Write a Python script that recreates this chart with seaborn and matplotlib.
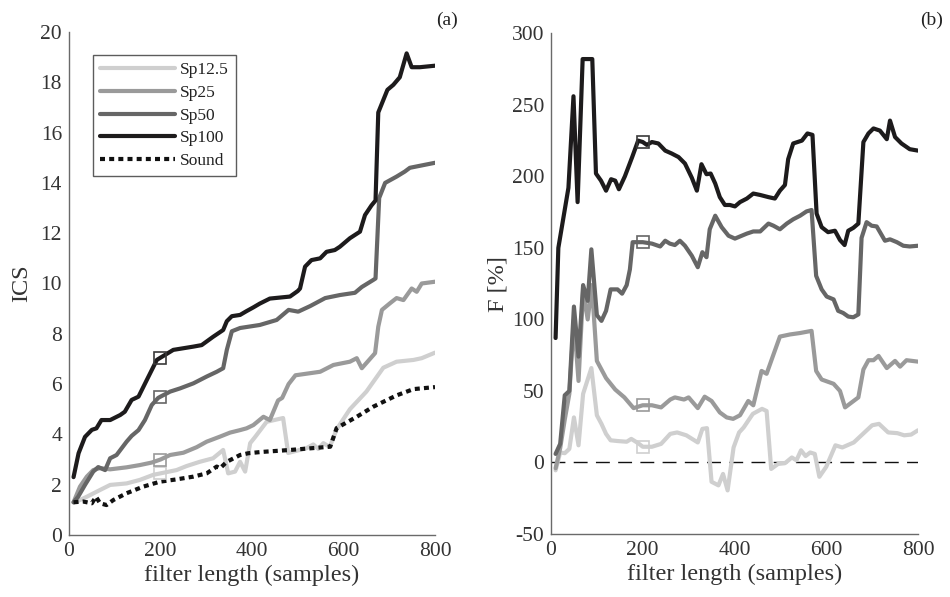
import numpy as np
import pandas as pd
import matplotlib
matplotlib.use("Agg")
import matplotlib.pyplot as plt
import seaborn as sns

# ---------------- data ----------------
SERIES = ["Sp12.5", "Sp25", "Sp50", "Sp100", "Sound"]
COLORS = {"Sp12.5": "#cfcfcf", "Sp25": "#9a9a9a", "Sp50": "#666666",
          "Sp100": "#1d1b1c", "Sound": "#111111"}

# panel (a): ICS vs filter length
a_sp100_x = [10, 21, 35, 50, 60, 71, 90, 112, 122, 137, 152, 170, 192, 200, 228, 272, 290, 315, 337, 345,
             356, 374, 388, 403, 417, 439, 483, 500, 505, 516, 530, 549, 563, 581, 592, 614, 636, 647, 661, 670,
             676, 696, 709, 723, 738, 749, 767, 800]
a_sp100_y = [2.3, 3.25, 3.9, 4.18, 4.24, 4.57, 4.57, 4.77, 4.9, 5.37, 5.5, 6.16, 6.96, 7.05, 7.36, 7.49, 7.55, 7.88, 8.15, 8.5,
             8.7, 8.75, 8.9, 9.05, 9.2, 9.4, 9.48, 9.7, 9.8, 10.67, 10.93, 11.0, 11.26, 11.33, 11.46, 11.8, 12.06, 12.72, 13.1, 13.3,
             16.8, 17.7, 17.9, 18.2, 19.15, 18.6, 18.6, 18.66]

a_sp50_x = [10, 20, 35, 53, 64, 79, 90, 104, 126, 137, 152, 166, 181, 195, 200, 221, 243, 272, 301, 323,
            337, 345, 356, 374, 417, 454, 480, 501, 527, 560, 592, 625, 640, 665, 670, 678, 691, 716, 734, 745, 800]
a_sp50_y = [1.3, 1.52, 1.99, 2.52, 2.7, 2.58, 3.05, 3.18, 3.71, 3.94, 4.17, 4.57, 5.17, 5.45, 5.5, 5.7, 5.83, 6.03, 6.3, 6.49,
            6.63, 7.36, 8.1, 8.23, 8.35, 8.55, 8.95, 8.88, 9.1, 9.42, 9.54, 9.63, 9.86, 10.14, 10.2, 13.4, 14.0, 14.25, 14.45, 14.6, 14.8]

a_sp25_x = [10, 24, 39, 53, 68, 90, 126, 155, 181, 200, 221, 250, 279, 301, 330, 352, 374, 388, 403, 425,
            439, 457, 466, 480, 495, 549, 578, 614, 629, 640, 669, 676, 684, 702, 716, 731, 749, 760, 771, 800]
a_sp25_y = [1.3, 1.92, 2.32, 2.58, 2.66, 2.61, 2.69, 2.78, 2.88, 3.0, 3.18, 3.27, 3.49, 3.71, 3.91, 4.07, 4.17, 4.24, 4.37, 4.7,
            4.57, 5.35, 5.45, 6.0, 6.35, 6.49, 6.76, 6.89, 7.03, 6.63, 7.23, 8.28, 8.95, 9.22, 9.42, 9.34, 9.8, 9.67, 10.0, 10.07]

a_sp12_x = [10, 17, 39, 68, 90, 126, 155, 184, 200, 235, 257, 286, 315, 337, 348, 363, 374, 385, 396, 407,
            432, 468, 479, 519, 534, 545, 556, 570, 585, 614, 650, 687, 716, 753, 771, 800]
a_sp12_y = [1.3, 1.33, 1.52, 1.79, 1.99, 2.05, 2.19, 2.39, 2.45, 2.58, 2.74, 2.91, 3.05, 3.38, 2.45, 2.52, 2.91, 2.52, 3.65, 3.9,
            4.5, 4.65, 3.26, 3.45, 3.6, 3.42, 3.65, 3.5, 4.2, 5.0, 5.7, 6.65, 6.89, 6.96, 7.03, 7.25]

a_snd_x = [10, 31, 50, 59, 68, 82, 97, 126, 162, 199, 235, 272, 301, 323, 330, 345, 374, 392, 420, 483,
           571, 585, 629, 665, 716, 753, 800]
a_snd_y = [1.3, 1.33, 1.26, 1.52, 1.26, 1.19, 1.39, 1.66, 1.92, 2.12, 2.21, 2.32, 2.45, 2.72, 2.65, 2.91, 3.18, 3.25, 3.3, 3.38,
           3.51, 4.25, 4.7, 5.1, 5.55, 5.8, 5.88]

# panel (b): F [%] vs filter length
b_sp100_x = [10, 16, 27, 38, 49, 58, 69, 79, 90, 98, 109, 120, 131, 140, 148, 161, 177, 190, 200, 209,
             220, 234, 249, 263, 278, 292, 307, 318, 328, 339, 348, 358, 368, 379, 390, 401, 412, 427, 441, 456,
             474, 488, 499, 510, 517, 528, 547, 559, 570, 579, 590, 604, 619, 630, 640, 648, 659, 670, 681, 692,
             703, 717, 732, 739, 750, 764, 782, 800]
b_sp100_y = [87, 150, 171, 192, 256, 182, 282, 282, 282, 202, 197, 190, 198, 197, 191, 200, 213.5, 225, 224, 222,
             224, 223, 218, 216, 213.5, 209, 199, 190, 208.5, 201.5, 202, 195, 185.5, 180, 180, 179, 182, 184.5, 188, 187,
             185.5, 184.5, 190, 194, 212, 223, 225, 230, 229, 174, 164.5, 161, 162, 155.5, 152, 162, 164, 167, 224, 230,
             233.5, 232, 226, 239, 227.5, 223, 219, 218]

b_sp50_x = [10, 20, 30, 40, 50, 60, 70, 80, 88, 100, 110, 120, 130, 145, 155, 165, 172, 178, 200, 220,
            238, 249, 259, 270, 281, 292, 307, 320, 330, 339, 346, 358, 372, 387, 401, 412, 427, 441, 456, 474,
            485, 499, 514, 528, 543, 557, 568, 578, 590, 601, 616, 626, 637, 648, 659, 670, 677, 688, 699, 710,
            728, 739, 754, 768, 782, 800]
b_sp50_y = [6, 13, 47, 50, 109, 74, 124, 113, 149, 103, 99, 106, 121, 121, 118, 124, 135, 154, 154, 153,
            151, 155, 153, 152, 155, 151.5, 144.5, 136.5, 147, 143.5, 163, 172.5, 164.5, 158.5, 156.5, 158, 160, 161.5, 161.5, 167,
            165.5, 163, 167, 170, 172.5, 175.5, 176.5, 130.5, 121, 116, 114, 106, 104.5, 102, 101.5, 103.5, 157, 168, 165.5, 165,
            155, 156, 154, 151.5, 151, 151.5]

b_sp25_x = [10, 20, 30, 40, 50, 60, 70, 80, 89, 100, 120, 140, 160, 180, 200, 220, 240, 260, 270, 290,
            300, 320, 335, 350, 368, 383, 397, 412, 430, 441, 459, 470, 485, 499, 521, 543, 568, 578, 590, 616,
            630, 641, 670, 681, 692, 703, 714, 732, 750, 761, 775, 800]
b_sp25_y = [-4, 10, 30, 48, 100, 57, 120, 100, 124, 71, 59, 51, 45.5, 38, 40, 40, 38.5, 44, 45.5, 44,
            45.5, 38, 46, 43, 35, 31.5, 30.5, 33, 43, 40, 64, 62, 75.5, 88, 89.5, 90.5, 92, 64, 58, 55,
            50, 38.5, 45.5, 65, 71.5, 71.5, 74.5, 66, 71, 67, 71.5, 70.5]

b_sp12_x = [10, 20, 30, 40, 50, 60, 70, 88, 100, 110, 120, 130, 145, 165, 175, 190, 200, 220, 240, 260,
            275, 295, 320, 330, 340, 350, 365, 375, 385, 398, 410, 420, 440, 460, 470, 480, 495, 510, 525, 535,
            545, 555, 565, 575, 585, 600, 620, 635, 660, 680, 700, 715, 735, 755, 770, 785, 800]
b_sp12_y = [-5.5, 7, 6.5, 9.5, 31.5, 12, 48, 66, 33, 27, 20, 15.5, 15, 14.5, 16.5, 13.5, 11, 11, 13, 20,
            21, 19, 14, 23.5, 24, -13.5, -16, -8, -19.5, 10.5, 21, 24.5, 34, 37.5, 36, -4.5, -1, -0.5, 3.5, 1.5,
            8.5, 4.5, 7, 6, -10, -3, 12, 10.5, 14, 20, 26, 27, 21, 20.5, 19, 19.5, 22.5]

A_TICKS = [0, 2, 4, 6, 8, 10, 12, 14, 16, 18, 20]
B_TICKS = [-50, 0, 50, 100, 150, 200, 250, 300]
X_TICKS = [0, 200, 400, 600, 800]
MARK_AT = 200

panel_a = {"Sp12.5": (a_sp12_x, a_sp12_y), "Sp25": (a_sp25_x, a_sp25_y),
           "Sp50": (a_sp50_x, a_sp50_y), "Sp100": (a_sp100_x, a_sp100_y),
           "Sound": (a_snd_x, a_snd_y)}
panel_b = {"Sp12.5": (b_sp12_x, b_sp12_y), "Sp25": (b_sp25_x, b_sp25_y),
           "Sp50": (b_sp50_x, b_sp50_y), "Sp100": (b_sp100_x, b_sp100_y)}

# ---------------- style ----------------
sns.set_style("white")
plt.rcParams["font.family"] = ["Liberation Serif", "DejaVu Serif"]
plt.rcParams["axes.unicode_minus"] = False
plt.rcParams["axes.edgecolor"] = "#6a6a6a"
plt.rcParams["axes.linewidth"] = 1.0
plt.rcParams["text.color"] = "#333333"
plt.rcParams["axes.labelcolor"] = "#333333"
plt.rcParams["xtick.color"] = "#6a6a6a"
plt.rcParams["ytick.color"] = "#6a6a6a"
plt.rcParams["xtick.labelcolor"] = "#333333"
plt.rcParams["ytick.labelcolor"] = "#333333"

fig = plt.figure(figsize=(9.5, 5.97), dpi=100)
ax_a = fig.add_axes([0.0726, 0.1039, 0.3853, 0.8425])
ax_b = fig.add_axes([0.5800, 0.1055, 0.3863, 0.8387])

LW = 3.0


def draw(ax, data):
    for name, (xs, ys) in data.items():
        df = pd.DataFrame({"x": xs, "y": ys})
        if name == "Sound":
            sns.lineplot(data=df, x="x", y="y", ax=ax, color=COLORS[name], lw=LW,
                         sort=False, estimator=None, label=name,
                         linestyle=(0, (1.2, 1.0)), dash_capstyle="butt")
        else:
            sns.lineplot(data=df, x="x", y="y", ax=ax, color=COLORS[name], lw=LW,
                         sort=False, estimator=None, label=name)
    # square marker at MARK_AT on each spray line
    for name, (xs, ys) in data.items():
        if name == "Sound" or MARK_AT not in xs:
            continue
        i = xs.index(MARK_AT)
        edge = COLORS[name] if name != "Sp100" else "#3a3a3a"
        ax.plot([xs[i]], [ys[i]], marker="s", ms=8, mfc="none", mec=edge, mew=1.2,
                linestyle="none", zorder=5)


draw(ax_a, panel_a)
draw(ax_b, panel_b)

ax_b.axhline(0, color="#111111", lw=1.0, linestyle=(0, (10, 6)), zorder=1)

for ax in (ax_a, ax_b):
    sns.despine(ax=ax)
    ax.set_xlim(0, 800)
    ax.set_xticks(X_TICKS)
    ax.tick_params(direction="in", length=5, width=1, labelsize=15.5, pad=5)
    ax.set_xlabel("filter length (samples)", fontsize=17.5, labelpad=3)

ax_a.set_ylim(0, 20)
ax_a.set_yticks(A_TICKS)
ax_a.set_ylabel("ICS", fontsize=17.5, labelpad=6)
ax_b.set_ylim(-50, 300)
ax_b.set_yticks(B_TICKS)
ax_b.set_ylabel("F [%]", fontsize=17.5, labelpad=2)

leg = ax_a.legend(loc="upper left", bbox_to_anchor=(0.066, 0.954), borderaxespad=0,
                  fontsize=12.5, frameon=True, fancybox=False, handlelength=4.3,
                  handletextpad=0.3, labelspacing=0.38, borderpad=0.4)
leg.get_frame().set_edgecolor("#333333")
leg.get_frame().set_linewidth(1.0)
for t in leg.get_texts():
    t.set_color("#222222")

if ax_b.get_legend() is not None:
    ax_b.get_legend().remove()

fig.text(447 / 950, 1 - 20 / 597, "(a)", ha="center", va="center", fontsize=14, color="#222222")
fig.text(932 / 950, 1 - 20 / 597, "(b)", ha="center", va="center", fontsize=14, color="#222222")

fig.savefig("out.png", dpi=100)
